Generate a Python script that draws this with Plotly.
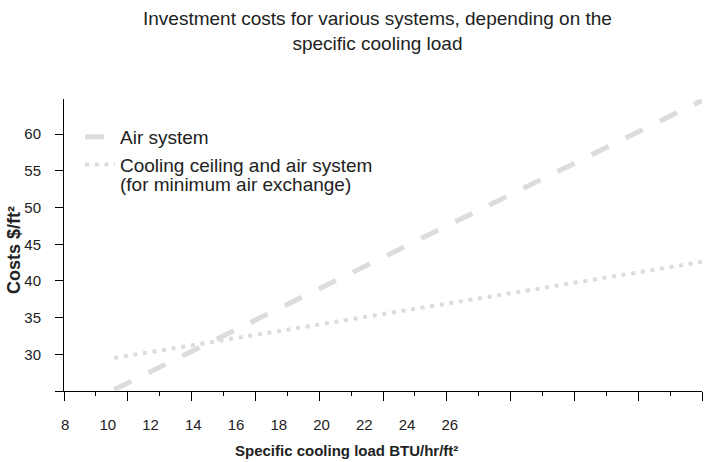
import plotly.graph_objects as go

# x axis labels (BTU/hr/ft²) and y ticks ($/ft²)
load_labels = [8, 10, 12, 14, 16, 18, 20, 22, 24, 26]
cost_ticks = [25, 30, 35, 40, 45, 50, 55, 60]

# series
air_load = [10.3, 37.8]
air_cost = [25.2, 64.6]
ceiling_load = [10.3, 37.8]
ceiling_cost = [29.5, 42.6]

FONT = "Liberation Sans, Arial, sans-serif"
GREY = "#dcdcdc"
INK = "#222"

# plot area in page pixels
PLOT_L, PLOT_R, PLOT_T, PLOT_B = 64, 702, 99, 391
W, H = 704, 462


def px(x):
    """page x -> paper x"""
    return (x - PLOT_L) / (PLOT_R - PLOT_L)


def py(y):
    """page y -> paper y"""
    return (PLOT_B - y) / (PLOT_B - PLOT_T)


fig = go.Figure()

fig.add_trace(go.Scatter(
    x=air_load, y=air_cost, mode="lines", name="Air system",
    line=dict(color=GREY, width=5, dash="19px,19px"),
))
fig.add_trace(go.Scatter(
    x=ceiling_load, y=ceiling_cost, mode="lines",
    name="Cooling ceiling and air system",
    line=dict(color=GREY, width=4, dash="4px,5.7px"),
))
# empty trace so the tick-mark axis gets drawn
fig.add_trace(go.Scatter(x=[], y=[], xaxis="x2", showlegend=False, hoverinfo="skip"))

fig.update_layout(
    width=W, height=H,
    margin=dict(l=PLOT_L, r=W - PLOT_R, t=PLOT_T, b=H - PLOT_B),
    plot_bgcolor="white", paper_bgcolor="white",
    font=dict(family=FONT, size=15, color=INK),
    showlegend=True,
    legend=dict(
        x=px(80), y=py(118), xanchor="left", yanchor="top",
        bgcolor="rgba(0,0,0,0)", font=dict(size=19, color=INK),
    ),
    xaxis=dict(
        range=[7.95, 37.8], tickvals=load_labels, ticktext=[str(v) for v in load_labels],
        ticks="outside", ticklen=20, tickcolor="rgba(0,0,0,0)",
        showgrid=False, zeroline=False, showline=False, automargin=False,
    ),
    xaxis2=dict(
        overlaying="x", anchor="y", side="bottom", range=[0, 20],
        tickmode="linear", tick0=0, dtick=2, ticks="outside", ticklen=9,
        tickcolor="black", showticklabels=False,
        minor=dict(dtick=1, ticks="outside", ticklen=4, tickcolor="black"),
        showline=True, linecolor="black", linewidth=1,
        showgrid=False, zeroline=False, automargin=False,
    ),
    yaxis=dict(
        range=[25, 64.8], tickvals=cost_ticks,
        ticktext=[""] + [str(v) for v in cost_ticks[1:]],
        ticks="outside", ticklen=8, tickcolor="black", ticklabelstandoff=11,
        showline=True, linecolor="black", linewidth=1,
        showgrid=False, zeroline=False, automargin=False,
    ),
)

# chart title
fig.add_annotation(
    text="Investment costs for various systems, depending on the<br>specific cooling load",
    xref="paper", yref="paper", x=px(377), y=py(31.5),
    xanchor="center", yanchor="middle", showarrow=False,
    font=dict(size=19, color=INK),
)

# second line of the ceiling legend entry, set tighter than plotly's legend line height
fig.add_annotation(
    text="(for minimum air exchange)",
    xref="paper", yref="paper", x=px(118), y=py(184),
    xanchor="left", yanchor="middle", showarrow=False,
    font=dict(size=19, color=INK),
)

# axis titles
fig.add_annotation(
    text="<b>Specific cooling load BTU/hr/ft²</b>",
    xref="paper", yref="paper", x=px(346), y=py(450),
    xanchor="center", yanchor="middle", showarrow=False,
    font=dict(size=15, color=INK),
)
fig.add_annotation(
    text="<b>Costs $/ft²</b>", textangle=-90,
    xref="paper", yref="paper", x=px(14), y=py(250),
    xanchor="center", yanchor="middle", showarrow=False,
    font=dict(size=18, color=INK),
)

# drop the browser's default 8px body margin so the figure sits at the page corner
fig.write_html(
    "out.html",
    config={"displayModeBar": False},
    post_script="document.body.style.margin = '0';",
)
